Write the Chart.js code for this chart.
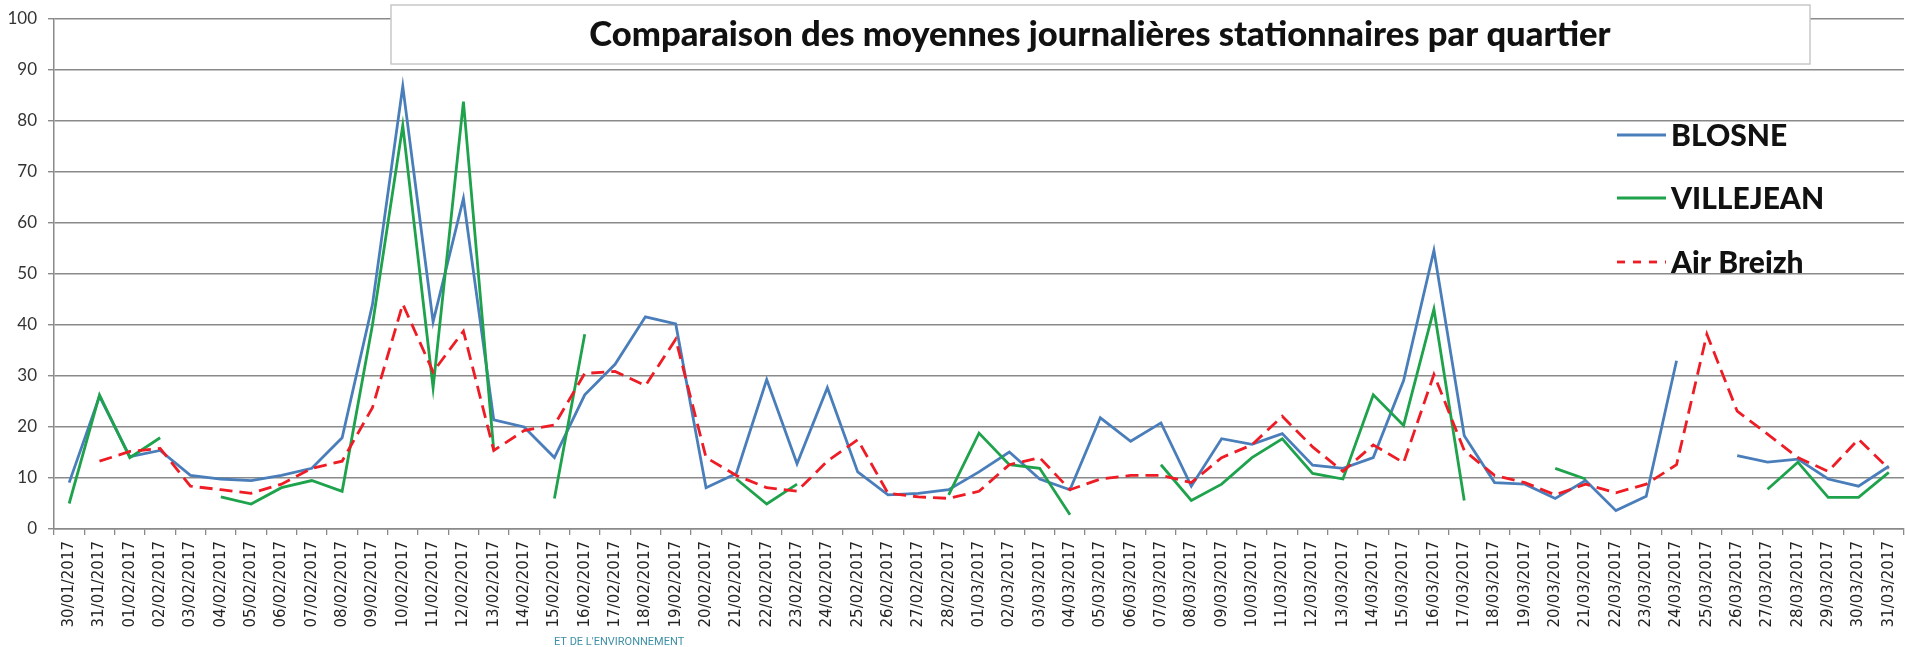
<!DOCTYPE html>
<html lang="fr">
<head>
    <meta charset="UTF-8">
    <title>Comparaison des moyennes journalières</title>
    <script src="https://cdn.jsdelivr.net/npm/chart.js"></script>
    <style>
        body { margin: 0; background: #fff; }
    </style>
</head>
<body>
    <canvas id="grafico" width="1905" height="647"></canvas>

    <script>
        const titre = 'Comparaison des moyennes journalières stationnaires par quartier';

        const jours = [
            '30/01/2017', '31/01/2017', '01/02/2017', '02/02/2017', '03/02/2017', '04/02/2017',
            '05/02/2017', '06/02/2017', '07/02/2017', '08/02/2017', '09/02/2017', '10/02/2017',
            '11/02/2017', '12/02/2017', '13/02/2017', '14/02/2017', '15/02/2017', '16/02/2017',
            '17/02/2017', '18/02/2017', '19/02/2017', '20/02/2017', '21/02/2017', '22/02/2017',
            '23/02/2017', '24/02/2017', '25/02/2017', '26/02/2017', '27/02/2017', '28/02/2017',
            '01/03/2017', '02/03/2017', '03/03/2017', '04/03/2017', '05/03/2017', '06/03/2017',
            '07/03/2017', '08/03/2017', '09/03/2017', '10/03/2017', '11/03/2017', '12/03/2017',
            '13/03/2017', '14/03/2017', '15/03/2017', '16/03/2017', '17/03/2017', '18/03/2017',
            '19/03/2017', '20/03/2017', '21/03/2017', '22/03/2017', '23/03/2017', '24/03/2017',
            '25/03/2017', '26/03/2017', '27/03/2017', '28/03/2017', '29/03/2017', '30/03/2017',
            '31/03/2017'
        ];

        const blosne = [
            9.1, 26.0, 14.2, 15.4, 10.5, 9.8, 9.5, 10.5, 11.9, 17.9,
            44.0, 86.8, 40.6, 64.8, 21.4, 20.0, 14.0, 26.3, 32.3, 41.6,
            40.2, 8.1, 10.9, 29.3, 12.8, 27.7, 11.2, 6.7, 7.0, 7.7,
            11.2, 15.1, 9.8, 7.7, 21.8, 17.2, 20.8, 8.4, 17.7, 16.6,
            18.7, 12.5, 11.9, 14.0, 29.1, 54.6, 18.3, 9.1, 8.8, 6.0,
            9.5, 3.6, 6.4, 33.0, null, 14.4, 13.1, 13.7, 9.8, 8.4, 12.3
        ];

        const villejean = [
            5.0, 26.3, 14.0, 17.9, null, 6.3, 4.9, 8.1, 9.5, 7.4,
            40.0, 79.1, 27.7, 83.8, 15.4, null, 6.0, 38.2, null, null,
            null, null, 9.8, 4.9, 8.8, null, null, null, null, 6.7,
            18.8, 12.6, 11.9, 2.8, null, null, 12.6, 5.6, 8.8, 14.0,
            17.7, 10.9, 9.8, 26.3, 20.3, 43.1, 5.6, null, null, 11.9,
            9.8, null, null, null, null, null, 7.8, 13.1, 6.2, 6.2, 11.1
        ];

        const airBreizh = [
            null, 13.3, 15.2, 15.8, 8.4, 7.7, 7.0, 8.8, 11.9, 13.3,
            23.8, 44.1, 30.8, 38.8, 15.4, 19.3, 20.4, 30.5, 30.9, 28.1,
            37.2, 14.0, 10.5, 8.1, 7.4, 13.3, 17.5, 7.0, 6.3, 6.0,
            7.4, 12.6, 14.0, 7.7, 9.8, 10.5, 10.5, 9.1, 14.0, 16.5,
            22.1, 16.1, 11.3, 16.5, 13.0, 30.3, 15.4, 10.5, 9.1, 6.7,
            8.8, 7.1, 8.8, 12.6, 38.2, 23.1, 18.6, 14.0, 11.3, 17.6, 11.8
        ];

        const graduations = [0, 10, 20, 30, 40, 50, 60, 70, 80, 90, 100];

        const gris = '#8a8a8a';

        // cadre du titre + légende à droite, dessinés à la main comme dans Excel
        const decor = {
            id: 'decor',
            afterDatasetsDraw(chart) {
                const c = chart.ctx;
                c.save();

                // cadre du titre
                c.fillStyle = '#fff';
                c.fillRect(391, 5, 1419, 59);
                c.strokeStyle = '#c8c8c8';
                c.lineWidth = 1.5;
                c.strokeRect(391, 5, 1419, 59);

                c.fillStyle = '#111';
                c.font = '900 30px Lato';
                let w = c.measureText(titre).width;
                let taille = 30 * 1023 / w;
                c.font = '900 ' + taille.toFixed(1) + 'px Lato';
                c.textAlign = 'center';
                c.textBaseline = 'middle';
                c.fillText(titre, 1100, 35);

                // légende
                const ys = [135, 198, 262];
                chart.data.datasets.forEach((ds, i) => {
                    c.beginPath();
                    c.strokeStyle = ds.borderColor;
                    c.lineWidth = 2.8;
                    c.setLineDash(ds.borderDash ? [8, 8] : []);
                    c.moveTo(1617, ys[i]);
                    c.lineTo(1666, ys[i]);
                    c.stroke();
                    c.setLineDash([]);
                    c.fillStyle = '#111';
                    c.font = '900 30px Lato';
                    c.textAlign = 'left';
                    c.fillText(ds.label, 1671, ys[i] + 1);
                });

                // bout de texte coupé en bas
                c.fillStyle = '#3c8fa6';
                c.font = '11px Roboto';
                c.textAlign = 'left';
                c.textBaseline = 'top';
                c.fillText("ET DE L'ENVIRONNEMENT", 554, 637);

                c.restore();
            }
        };

        const ctx = document.getElementById('grafico').getContext('2d');
        const grafico = new Chart(ctx, {
            type: 'line',
            data: {
                labels: jours,
                datasets: [
                    {
                        label: 'BLOSNE',
                        data: blosne,
                        borderColor: '#4a7ebb',
                        borderWidth: 2.8,
                        order: 3
                    },
                    {
                        label: 'VILLEJEAN',
                        data: villejean,
                        borderColor: '#1ea24b',
                        borderWidth: 2.8,
                        order: 2
                    },
                    {
                        label: 'Air Breizh',
                        data: airBreizh,
                        borderColor: '#ee1c25',
                        borderWidth: 2.8,
                        borderDash: [13, 7],
                        order: 1
                    }
                ]
            },
            options: {
                responsive: false,
                animation: false,
                spanGaps: false,
                layout: { padding: { top: 19, right: 1, left: 0, bottom: 0 } },
                elements: {
                    point: { radius: 0 },
                    line: { tension: 0, fill: false }
                },
                plugins: {
                    legend: { display: false },
                    title: { display: false },
                    tooltip: { enabled: false }
                },
                scales: {
                    x: {
                        offset: true,
                        grid: {
                            offset: true,
                            drawOnChartArea: false,
                            drawTicks: true,
                            tickLength: 6,
                            color: gris,
                            lineWidth: 1.3
                        },
                        border: { color: gris, width: 1.5 },
                        ticks: {
                            autoSkip: false,
                            minRotation: 90,
                            maxRotation: 90,
                            padding: 6,
                            color: '#222',
                            font: { family: 'DejaVu Sans', size: 15 }
                        },
                        afterFit: s => {
                            s.height = 118;
                            s.paddingLeft = 0;
                            s.paddingRight = 0;
                        }
                    },
                    y: {
                        min: 0,
                        max: 100,
                        afterBuildTicks: s => {
                            s.ticks = graduations.map(v => ({ value: v }));
                        },
                        grid: {
                            color: gris,
                            lineWidth: 1.4,
                            tickLength: 6
                        },
                        border: { color: gris, width: 1.5 },
                        ticks: {
                            padding: 11,
                            color: '#333',
                            font: { family: 'Lato', size: 17 }
                        },
                        afterFit: s => {
                            s.width = 54;
                            s.paddingTop = 0;
                            s.paddingBottom = 0;
                        }
                    }
                }
            },
            plugins: [decor]
        });
    </script>
</body>
</html>
